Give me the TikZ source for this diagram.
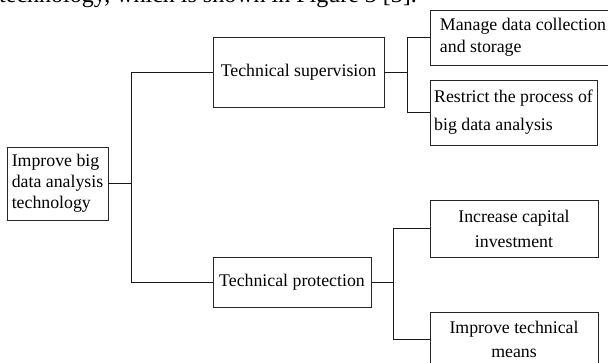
\documentclass[tikz,border=0pt]{standalone}
\usepackage{fontspec}
\setmainfont{Liberation Serif}
\usepackage{tikz}
\usetikzlibrary{calc}
\tikzstyle{every node}=[font=\fontsize{17.8}{22}\selectfont]
\tikzset{
  box/.style={draw=black!85, line width=0.8pt, inner xsep=2pt, inner ysep=3pt},
  link/.style={draw=black!90, line width=0.8pt}
}

\begin{document}
\begin{tikzpicture}[x=1pt,y=-1pt]
                \useasboundingbox (0,0) rectangle (608,362);
                \clip (0,0) rectangle (608,362);

                % line of running text cut by the top edge
                \node[anchor=base west, inner sep=0pt, font=\fontsize{24}{28}\selectfont] (intro) at (-1,2) {technology, which is shown in Figure 3 [3].};

                \node[box, minimum width=101pt, minimum height=73pt, align=left, font=\fontsize{17.8}{21}\selectfont] (root) at (57.5,183.5) {Improve big\\data analysis\\technology};

                \node[box, minimum width=171pt, minimum height=70pt] (sup) at (298.5,72) {Technical supervision};
                \node[box, minimum width=158pt, minimum height=50pt] (prot) at (292,282) {Technical protection};

                \node[box, minimum width=186pt, minimum height=55pt, align=left, font=\fontsize{17.8}{22}\selectfont] (mng) at (523,37.5) {Manage data collection\\and storage};
                \node[box, minimum width=167pt, minimum height=65pt, align=left, font=\fontsize{17.8}{28}\selectfont] (rst) at (513.5,112.5) {Restrict the process of\\big data analysis};
                \node[box, minimum width=168pt, minimum height=57pt, align=center, font=\fontsize{17.8}{25}\selectfont] (inc) at (514,228.5) {Increase capital\\investment};
                \node[box, minimum width=168pt, minimum height=54pt, align=center, font=\fontsize{17.8}{24}\selectfont] (imp) at (514,339) {Improve technical\\means};

                \coordinate (rj) at ($(root.east)+(23,0)$);
                \coordinate (sj) at ($(sup.east)+(23,0)$);
                \coordinate (pj) at ($(prot.east)+(22,0)$);

                \draw [link] (root.east) -- (rj);
                \draw [link] (sup.west) -| (rj) |- (prot.west);
                \draw [link] (sup.east) -- (sj);
                \draw [link] (mng.west) -| (sj) |- (rst.west);
                \draw [link] (prot.east) -- (pj);
                \draw [link] (inc.west) -| (pj) |- (imp.west);
            \end{tikzpicture}
\end{document}
